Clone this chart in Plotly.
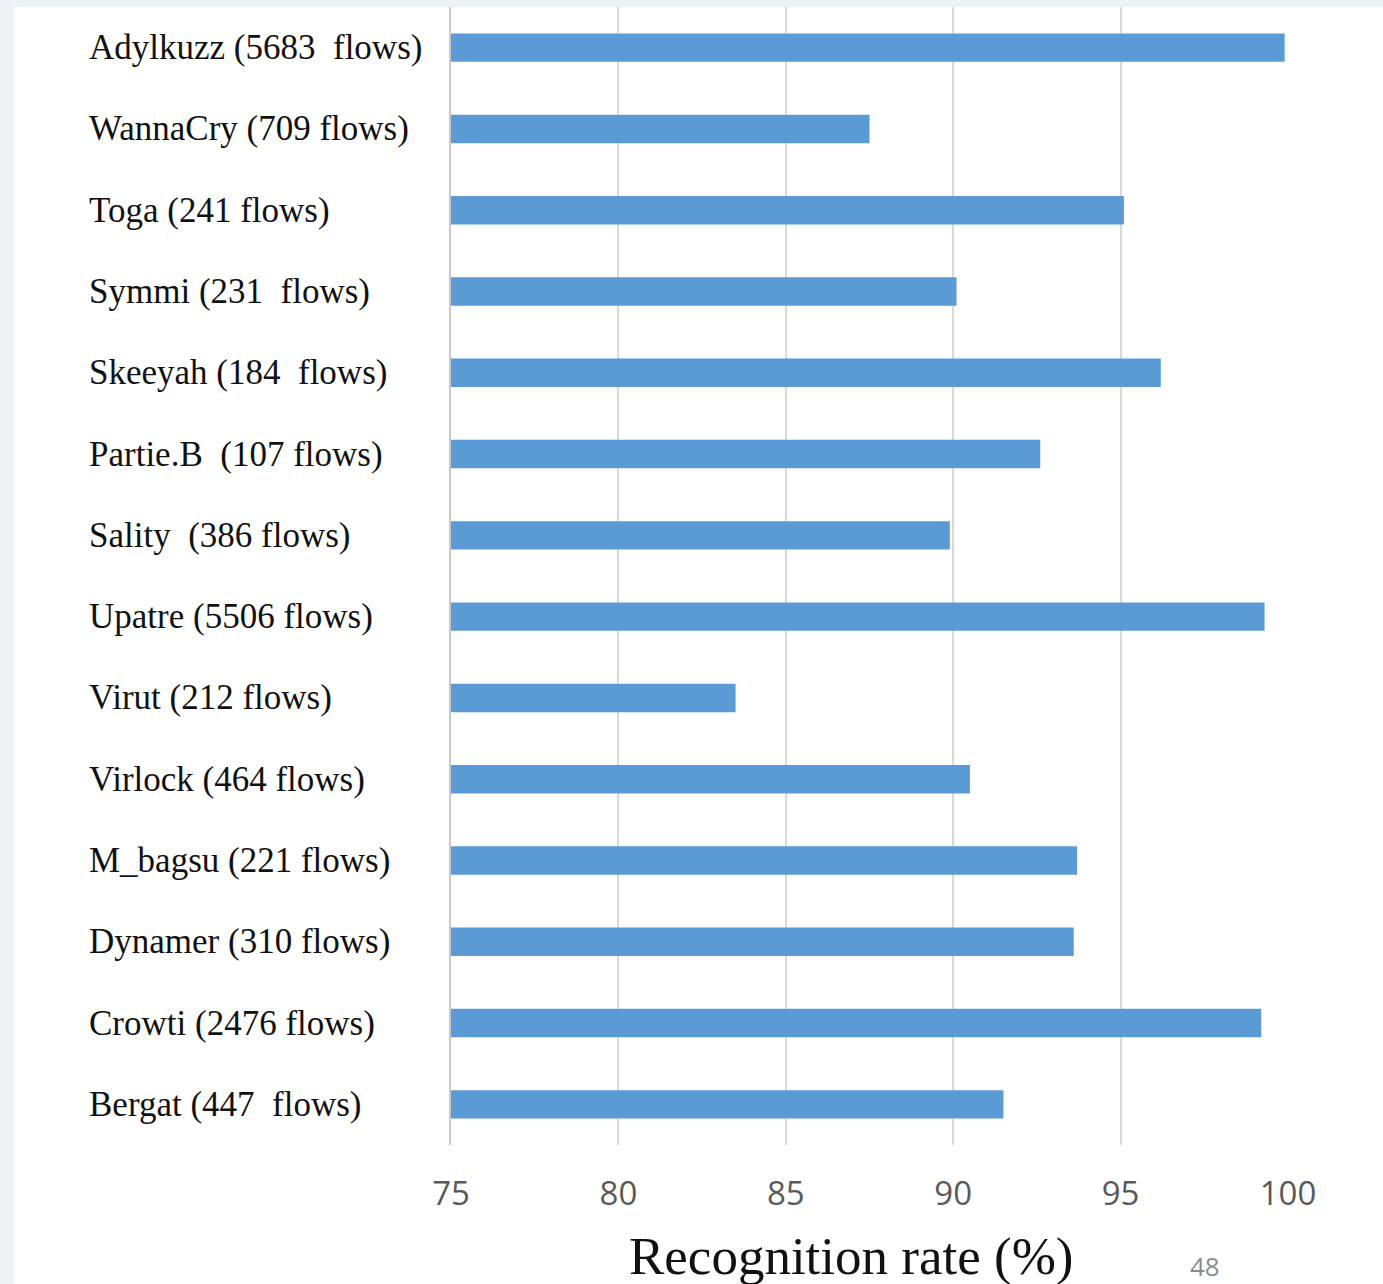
import plotly.graph_objects as go

# Malware families (top to bottom) and their recognition rates (%)
families = [
    "Adylkuzz (5683  flows)",
    "WannaCry (709 flows)",
    "Toga (241 flows)",
    "Symmi (231  flows)",
    "Skeeyah (184  flows)",
    "Partie.B  (107 flows)",
    "Sality  (386 flows)",
    "Upatre (5506 flows)",
    "Virut (212 flows)",
    "Virlock (464 flows)",
    "M_bagsu (221 flows)",
    "Dynamer (310 flows)",
    "Crowti (2476 flows)",
    "Bergat (447  flows)",
]
rates = [99.9, 87.5, 95.1, 90.1, 96.2, 92.6, 89.9, 99.3, 83.5, 90.5, 93.7, 93.6, 99.2, 91.5]

x_ticks = [75, 80, 85, 90, 95, 100]
x_title = "Recognition rate (%)"
page_number = "48"

W, H = 1383, 1284
L, R, T, B = 451, 95, 7, 139
plot_w = W - L - R
plot_h = H - T - B


def px_x(px):
    return (px - L) / plot_w


def px_y(py):
    return (H - B - py) / plot_h


fig = go.Figure()
fig.add_trace(go.Bar(
    x=rates,
    y=families,
    orientation="h",
    width=0.35,
    marker=dict(color="#5b9bd5", line=dict(width=0)),
    hoverinfo="x+y",
))

# category labels, left-aligned in the margin
annotations = []
for fam in families:
    annotations.append(dict(
        x=px_x(87), xref="paper", xanchor="left",
        y=fam, yref="y", yanchor="middle",
        text=fam, showarrow=False,
        font=dict(family="Liberation Serif", size=35, color="#111111"),
    ))

annotations.append(dict(
    x=px_x(851), xref="paper", xanchor="center",
    y=px_y(1256), yref="paper", yanchor="middle",
    text=x_title, showarrow=False,
    font=dict(family="Liberation Serif", size=53, color="#111111"),
))
annotations.append(dict(
    x=px_x(1205), xref="paper", xanchor="center",
    y=px_y(1266), yref="paper", yanchor="middle",
    text=page_number, showarrow=False,
    font=dict(family="Open Sans", size=26, color="#8c8c8c"),
))

fig.update_layout(
    width=W, height=H,
    margin=dict(l=L, r=R, t=T, b=B, pad=0),
    paper_bgcolor="#edf2f5",
    plot_bgcolor="white",
    showlegend=False,
    annotations=annotations,
    shapes=[dict(
        type="rect", xref="paper", yref="paper", layer="below",
        x0=px_x(14), x1=px_x(W + 10), y0=px_y(H + 10), y1=px_y(7),
        fillcolor="white", line=dict(width=0),
    )],
    xaxis=dict(
        range=[75, 100],
        tickvals=x_ticks,
        ticks="",
        showgrid=True, gridcolor="#d9d9d9", gridwidth=2,
        zeroline=False, showline=False,
        tickfont=dict(family="Open Sans", size=33, color="#595959"),
        ticklabelstandoff=26,
    ),
    yaxis=dict(
        categoryorder="array", categoryarray=families,
        autorange="reversed",
        showticklabels=False, ticks="",
        showgrid=False, zeroline=False,
        showline=True, linecolor="#c8c8c8", linewidth=2,
    ),
)

fig.write_html("out.html")
